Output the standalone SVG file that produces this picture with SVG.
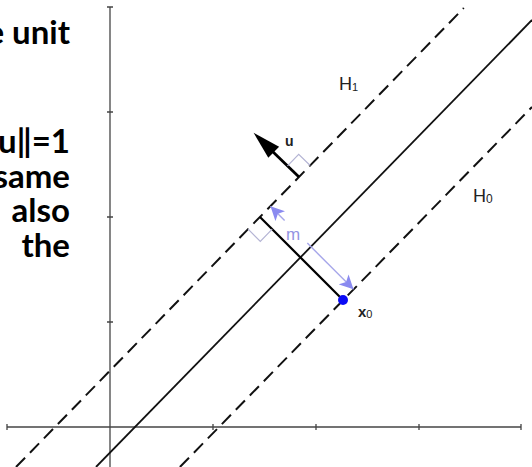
<svg xmlns="http://www.w3.org/2000/svg" width="532" height="467" viewBox="0 0 532 467">
<style>
.axis{stroke:#444;stroke-width:1.3;fill:none}
.tick{stroke:#444;stroke-width:1.3}
.dash{stroke:#111;stroke-width:2;fill:none;stroke-dasharray:13 7}
.solid{stroke:#111;stroke-width:1.8;fill:none}
.ra{stroke:#b4b4d4;stroke-width:1.2;fill:none}
.mline{stroke:#a6a6ea;stroke-width:1.4;fill:none}
.big{font-family:Lato,"Liberation Sans",sans-serif;font-weight:700;font-size:33px;fill:#000;text-anchor:end}
.lbl{font-family:"Liberation Sans",Arial,sans-serif;fill:#222}
</style>
<defs>
<marker id="mhead" markerUnits="userSpaceOnUse" markerWidth="16" markerHeight="14" refX="14" refY="7" orient="auto">
<path d="M0,0 L14,7 L0,14 L3.5,7 Z" fill="#8a8af0"/>
</marker>
</defs>
<rect width="532" height="467" fill="#fff"/>
<g id="text">
<text class="big" x="70" y="44">e unit</text>
<text class="big" x="70" y="153">u‖=1</text>
<text class="big" x="70" y="188">same</text>
<text class="big" x="70" y="222">also</text>
<text class="big" x="70" y="257">the</text>
</g>
<g id="axes">
<line class="axis" x1="110" y1="7" x2="110" y2="467"/>
<line class="axis" x1="7" y1="427" x2="521" y2="427"/>
<path class="tick" d="M107,7H113M107,112H113M107,217H113M107,322H113M7,424V430M213,424V430M316,424V430M419,424V430M521,424V430"/>
</g>
<g id="hyperplanes">
<line id="H1line" class="dash" x1="16" y1="467" x2="463.8" y2="8"/>
<line id="Hmid" class="solid" x1="96" y1="467" x2="532" y2="20"/>
<line id="H0line" class="dash" x1="179.9" y1="467" x2="532" y2="107"/>
</g>
<g id="normal-u">
<line x1="299" y1="177" x2="270" y2="149" stroke="#000" stroke-width="2.8"/>
<polygon points="253.6,132.7 279.1,146.8 268.3,157.8" fill="#000"/>
<polyline class="ra" points="287.5,165.8 298.7,154.3 310.2,165.5"/>
<text class="lbl" x="285" y="146" font-size="14" font-weight="700">u</text>
</g>
<g id="margin">
<line x1="260" y1="217" x2="343" y2="300" stroke="#000" stroke-width="2.2"/>
<polyline class="ra" points="248.1,229.2 260.3,241.4 272.2,229.2"/>
<g id="connectors">
<line class="mline" x1="284.6" y1="220.4" x2="270.5" y2="206.3" marker-end="url(#mhead)"/>
<line class="mline" x1="307.3" y1="243.1" x2="353.5" y2="289.3" marker-end="url(#mhead)"/>
</g>
<text x="293" y="240" font-family="Liberation Sans,Arial,sans-serif" font-size="17" fill="#9494e2" text-anchor="middle">m</text>
</g>
<g id="x0">
<circle cx="343" cy="300" r="5" fill="#0a0af5"/>
<text class="lbl" x="358" y="317" font-size="15" font-weight="700">x<tspan font-size="11" dy="1" font-weight="400">0</tspan></text>
</g>
<g id="labels">
<text class="lbl" x="339" y="90" font-size="18">H<tspan font-size="11" dy="1">1</tspan></text>
<text class="lbl" x="473" y="202" font-size="18">H<tspan font-size="12" dy="1">0</tspan></text>
</g>
</svg>
